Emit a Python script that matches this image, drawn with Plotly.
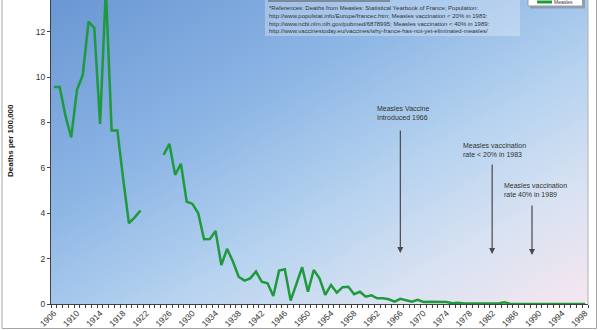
import base64
import plotly.graph_objects as go

# Measles deaths per 100,000 population, France
years = list(range(1906, 1999))
deaths = [
    9.56, 9.56, 8.3, 7.34, 9.44, 10.1, 12.45, 12.16, 7.94, 13.9,   # 1906-1915
    7.65, 7.65, 5.5, 3.56, 3.82, 4.12, None, None, None, 6.57,     # 1916-1925
    7.06, 5.69, 6.18, 4.51, 4.41, 4.0, 2.85, 2.86, 3.22, 1.72,     # 1926-1935
    2.43, 1.87, 1.2, 1.03, 1.13, 1.43, 0.98, 0.91, 0.35, 1.47,     # 1936-1945
    1.53, 0.15, 0.91, 1.62, 0.54, 1.5, 1.13, 0.4, 0.84, 0.5,       # 1946-1955
    0.74, 0.76, 0.43, 0.54, 0.32, 0.38, 0.25, 0.25, 0.21, 0.1,     # 1956-1965
    0.23, 0.15, 0.1, 0.18, 0.09, 0.1, 0.09, 0.1, 0.09, 0.03,       # 1966-1975
    0.05, 0.02, 0.02, 0.02, 0.05, 0.05, 0.02, 0.02, 0.08, 0.01,    # 1976-1985
    0, 0, 0, 0, 0, 0, 0, 0, 0, 0, 0, 0, 0,                         # 1986-1998
]
label_years = list(range(1906, 1999, 4))
y_ticks = [0, 2, 4, 6, 8, 10, 12]

references = [
    "*References: Deaths from Measles: Statistical Yearbook of France; Population:",
    "http://www.populstat.info/Europe/francec.htm; Measles vaccination < 20% in 1983:",
    "http://www.ncbi.nlm.nih.gov/pubmed/6878995; Measles vaccination < 40% in 1989:",
    "http://www.vaccinestoday.eu/vaccines/why-france-has-not-yet-eliminated-measles/",
]

# (text, text-left year, text-top value, arrow year, arrow tip value, arrow tail value)
notes = [
    ("Measles Vaccine<br>Introduced 1966", 1961.6, 8.85, 1966.0, 2.25, 7.71),
    ("Measles vaccination<br>rate < 20% in 1983", 1976.5, 7.25, 1981.9, 2.2, 6.21),
    ("Measles vaccination<br>rate 40% in 1989", 1983.6, 5.45, 1988.8, 2.16, 4.41),
]

FONT = "Arial, Liberation Sans, sans-serif"
GREEN = "#1E9A3C"

# plot-area geometry in pixels (used for placing decorations in paper space)
L, R, T, B = 51, 12, 0, 26
PW, PH = 600 - L - R, 330 - T - B


def px(x):
    return (x - L) / PW


def py(y):
    return (PH + T - y) / PH


# diagonal blue-to-pink background gradient
svg = (
    '<svg xmlns="http://www.w3.org/2000/svg" width="537" height="304" '
    'viewBox="0 0 537 304" preserveAspectRatio="none">'
    '<defs><linearGradient id="g" x1="0" y1="0" x2="1" y2="1">'
    '<stop offset="0" stop-color="#6A97D4"/>'
    '<stop offset="0.35" stop-color="#8DB6E5"/>'
    '<stop offset="0.6" stop-color="#B5D2EF"/>'
    '<stop offset="0.8" stop-color="#D8E2F2"/>'
    '<stop offset="1" stop-color="#F6E6EF"/>'
    '</linearGradient></defs>'
    '<rect width="537" height="304" fill="url(#g)"/></svg>'
)
bg_src = "data:image/svg+xml;base64," + base64.b64encode(svg.encode()).decode()

fig = go.Figure()
fig.add_trace(go.Scatter(
    x=years, y=deaths, mode="lines", connectgaps=False,
    line=dict(color=GREEN, width=2.5), showlegend=False, hoverinfo="x+y",
))

fig.update_layout(
    width=600, height=330,
    margin=dict(l=L, r=R, t=T, b=B),
    paper_bgcolor="white",
    plot_bgcolor="rgba(0,0,0,0)",
    font=dict(family=FONT, color="#404040", size=8),
    showlegend=False,
    images=[dict(
        source=bg_src, xref="paper", yref="paper", x=0, y=1, sizex=1, sizey=1,
        xanchor="left", yanchor="top", sizing="stretch", layer="below",
    )],
)

fig.update_xaxes(
    range=[1905.5, 1998.5],
    tickmode="array", tickvals=label_years, ticktext=[str(y) for y in label_years],
    tickangle=-45, ticks="", tickfont=dict(size=8.5, color="#333333"),
    minor=dict(tickmode="array", tickvals=[y - 0.5 for y in years] + [1998.5],
               ticks="outside", ticklen=3, tickcolor="#404040", showgrid=False),
    showline=True, linecolor="#404040", linewidth=1,
    showgrid=False, zeroline=False,
)
fig.update_yaxes(
    range=[0, PH / 22.69],
    tickmode="array", tickvals=y_ticks, ticktext=[str(v) for v in y_ticks],
    ticks="outside", ticklen=3, tickcolor="#404040",
    tickfont=dict(size=8.5, color="#333333"),
    showline=True, linecolor="#404040", linewidth=1,
    showgrid=False, zeroline=False,
)

shapes = [
    # outer chart border
    dict(type="rect", xref="paper", yref="paper", x0=px(2), x1=px(596.5),
         y0=py(328.5), y1=py(-10), line=dict(color="#A6A6A6", width=1)),
    # plot-area right edge
    dict(type="line", xref="paper", yref="paper", x0=1, x1=1, y0=0, y1=1,
         line=dict(color="#B0B0B0", width=1)),
    # references panel
    dict(type="rect", xref="paper", yref="paper", x0=px(265), x1=px(520),
         y0=py(36), y1=py(-5), fillcolor="rgba(255,255,255,0.28)", line=dict(width=0)),
    dict(type="line", xref="paper", yref="paper", x0=px(268), x1=px(390),
         y0=py(1), y1=py(1), line=dict(color="#505050", width=1)),
    # legend box (shadow, box, series sample)
    dict(type="rect", xref="paper", yref="paper", x0=px(530), x1=px(585),
         y0=py(8.5), y1=py(-20), fillcolor="rgba(90,90,90,0.35)", line=dict(width=0)),
    dict(type="rect", xref="paper", yref="paper", x0=px(528), x1=px(582.5),
         y0=py(6), y1=py(-20), fillcolor="white", line=dict(color="#9A9A9A", width=1)),
    dict(type="line", xref="paper", yref="paper", x0=px(537), x1=px(552),
         y0=py(2), y1=py(2), line=dict(color=GREEN, width=3)),
]

annotations = [
    dict(text="<b>Deaths per 100,000</b>", xref="paper", yref="paper",
         x=px(10), y=py(141), textangle=-90, showarrow=False,
         font=dict(size=8, color="#1A1A1A"), xanchor="center", yanchor="middle"),
    dict(text="<br>".join(references), xref="paper", yref="paper",
         x=px(267), y=py(2.5), xanchor="left", yanchor="top", align="left",
         showarrow=False, font=dict(size=6, color="#333333")),
    dict(text="Measles", xref="paper", yref="paper", x=px(553), y=py(2),
         xanchor="left", yanchor="middle", showarrow=False, borderpad=0,
         font=dict(size=5, color="#333333")),
]

for text, tx, ty, ax_year, tip, tail in notes:
    annotations.append(dict(
        text=text, x=tx, y=ty, xref="x", yref="y", xanchor="left", yanchor="top",
        align="left", showarrow=False, font=dict(size=7, color="#333333"),
    ))
    annotations.append(dict(
        text="", x=ax_year, y=tip, xref="x", yref="y",
        ax=ax_year, ay=tail, axref="x", ayref="y",
        showarrow=True, arrowhead=2, arrowsize=1, arrowwidth=1.2, arrowcolor="#4A4A4A",
    ))

fig.update_layout(shapes=shapes, annotations=annotations)

fig.write_html("out.html")
